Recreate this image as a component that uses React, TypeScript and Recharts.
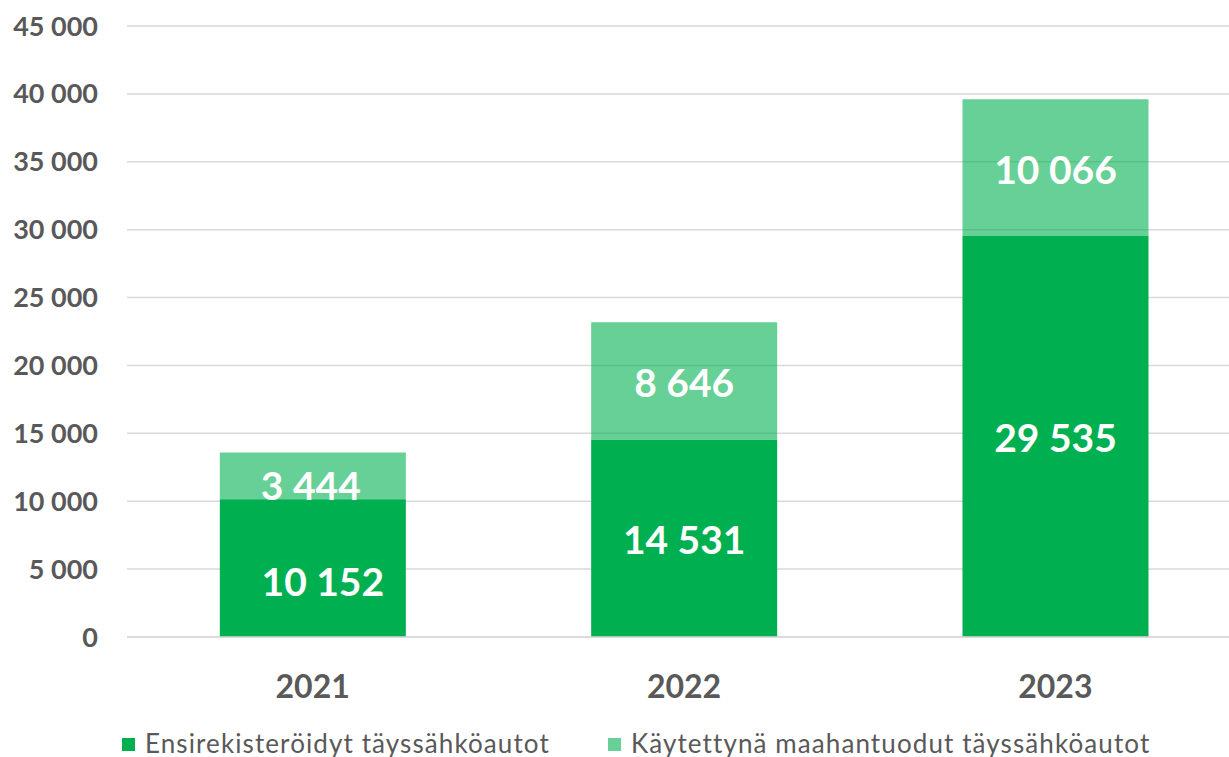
import React from "react";
import { BarChart, Bar, XAxis, YAxis, CartesianGrid, Legend, LabelList } from "recharts";

const years = ["2021", "2022", "2023"];
const firstRegistered = [10152, 14531, 29535];
const usedImported = [3444, 8646, 10066];
const yTicks = [0, 5000, 10000, 15000, 20000, 25000, 30000, 35000, 40000, 45000];

const seriesNames = ["Ensirekisteröidyt täyssähköautot", "Käytettynä maahantuodut täyssähköautot"];

const data = years.map((year, i) => ({
  year,
  first: firstRegistered[i],
  used: usedImported[i],
}));

const GREEN = "#00B050";
const GRAY = "#595959";
const FONT = "Lato, 'Open Sans', sans-serif";

// labels of 2021 were dragged a bit in the original
const nudgeFirst = [{ dx: 10, dy: 12 }, { dx: 0, dy: 0 }, { dx: 0, dy: 0 }];
const nudgeUsed = [{ dx: -2, dy: 8 }, { dx: 0, dy: 0 }, { dx: 0, dy: 0 }];

const fmt = (v: number) => String(v).replace(/\B(?=(\d{3})+(?!\d))/g, " ");

const makeLabel = (nudge: { dx: number; dy: number }[]) => (props: any) => {
  const { x, y, width, height, value, index } = props;
  const n = nudge[index] || { dx: 0, dy: 0 };
  const cx = Number(x) + Number(width) / 2 + n.dx;
  const cy = Number(y) + Number(height) / 2 + n.dy;
  return (
    <text
      x={cx}
      y={cy + 16}
      textAnchor="middle"
      fill="#ffffff"
      fontFamily={FONT}
      fontWeight={700}
      fontSize={39}
    >
      {fmt(Number(value))}
    </text>
  );
};

const LegendContent = () => {
  const colors = [GREEN, "rgba(0,176,80,0.6)"];
  return (
    <div
      style={{
        height: 40,
        boxSizing: "border-box",
        paddingTop: 11,
        paddingLeft: 122,
        display: "flex",
        alignItems: "center",
        fontFamily: FONT,
        fontSize: 26,
        lineHeight: "26px",
        letterSpacing: 1.1,
        color: GRAY,
      }}
    >
      {seriesNames.map((name, i) => (
        <div
          key={name}
          style={{ display: "flex", alignItems: "center", width: i === 0 ? 486 : "auto", whiteSpace: "nowrap" }}
        >
          <span style={{ width: 13, height: 13, background: colors[i], marginRight: 10, marginTop: 3, display: "inline-block" }} />
          <span>{name}</span>
        </div>
      ))}
    </div>
  );
};

export default function App() {
  return (
    <div
      style={{
        position: "fixed",
        top: 0,
        left: 0,
        width: 1229,
        height: 757,
        overflow: "hidden",
        background: "#ffffff",
      }}
    >
      <BarChart
        width={1241}
        height={757}
        data={data}
        margin={{ top: 26, right: 0, bottom: 0, left: 0 }}
        barCategoryGap="25%"
      >
        <CartesianGrid vertical={false} stroke="#D9D9D9" strokeWidth={1.5} />
        <XAxis
          dataKey="year"
          height={80}
          tickLine={false}
          tickSize={0}
          tickMargin={38}
          axisLine={{ stroke: "#D9D9D9", strokeWidth: 1.5 }}
          tick={{ fill: GRAY, fontSize: 32, fontWeight: 700, fontFamily: FONT }}
        />
        <YAxis
          width={127}
          domain={[0, 45000]}
          ticks={yTicks}
          interval={0}
          axisLine={false}
          tickLine={false}
          tickSize={0}
          tickMargin={29}
          tickFormatter={fmt}
          tick={{ fill: GRAY, fontSize: 27, fontWeight: 700, fontFamily: FONT }}
        />
        <Legend verticalAlign="bottom" height={40} content={<LegendContent />} />
        <Bar dataKey="first" stackId="a" fill={GREEN} isAnimationActive={false}>
          <LabelList dataKey="first" content={makeLabel(nudgeFirst)} />
        </Bar>
        <Bar dataKey="used" stackId="a" fill={GREEN} fillOpacity={0.6} isAnimationActive={false}>
          <LabelList dataKey="used" content={makeLabel(nudgeUsed)} />
        </Bar>
      </BarChart>
    </div>
  );
}
